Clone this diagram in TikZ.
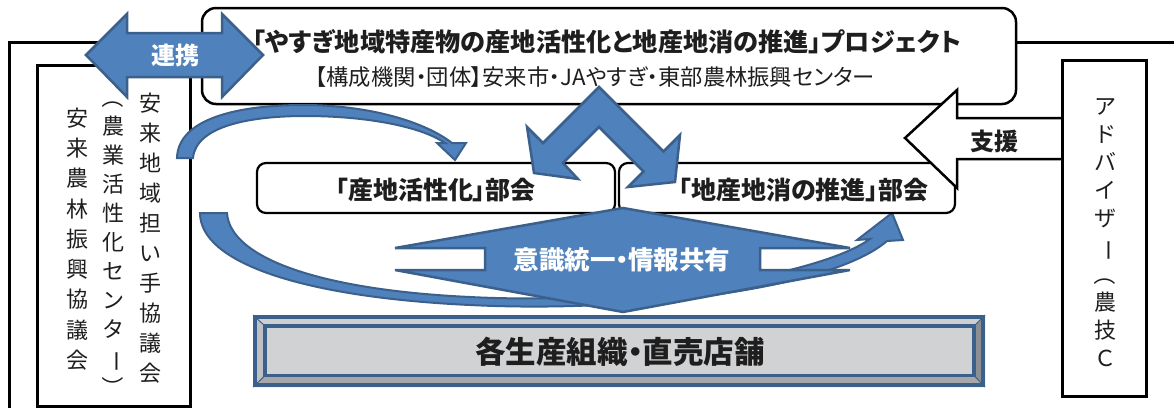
\documentclass[tikz,border=0pt]{standalone}
\usepackage{fontspec}
\usepackage{graphicx}
\newfontfamily\jp[RawFeature=+palt]{Noto Sans CJK JP}
\newfontfamily\jpv{Noto Sans CJK JP}
\definecolor{bfill}{RGB}{79,129,189}
\definecolor{bline}{RGB}{60,96,140}
\definecolor{txt}{RGB}{30,30,30}
\definecolor{face}{RGB}{209,210,212}
\definecolor{bevtop}{RGB}{205,207,210}
\definecolor{bevleft}{RGB}{190,192,196}
\definecolor{bevright}{RGB}{140,142,146}
\definecolor{bevbot}{RGB}{165,167,171}
\newcommand{\vpar}[1]{\rotatebox[origin=c]{-90}{#1}}
\begin{document}
\begin{tikzpicture}[x=1pt,y=-1pt,
  every node/.style={inner sep=0pt,outer sep=0pt,text=txt},
  frameline/.style={draw=black,line width=3pt},
  rbox/.style={draw=black,line width=2.2pt,fill=white,rounded corners=9pt},
  barrow/.style={fill=bfill,draw=bline,line width=2.5pt,line join=miter},
  wtext/.style={text=white,font=\jp\bfseries\fontsize{24}{26}\selectfont},
  btext/.style={font=\jp\bfseries\fontsize{25}{27}\selectfont},
  vcol/.style={align=center,font=\jpv\fontsize{22}{#1}\selectfont},
]
\useasboundingbox (0,0) rectangle (1174,408);
% outer frame
\draw[frameline] (9,408) -- (9,42.5) -- (1174,42.5);
% left inner box
\node[draw=black,line width=3pt,fill=white,minimum width=153pt,minimum height=341pt] (leftbox) at (113.5,235.5) {};
\node[vcol=30] (col1) at (150,238) {安\\来\\地\\域\\担\\い\\手\\協\\議\\会};
\node[vcol=29] (col2) at (113,242) {\vpar{（}\\農\\業\\活\\性\\化\\セ\\ン\\タ\\\vpar{ー}\\\vpar{）}};
\node[vcol=30.25] (col3) at (77,239) {安\\来\\農\\林\\振\\興\\協\\議\\会};
% top project box
\node[rbox,rounded corners=14pt,line width=2.5pt,minimum width=814pt,minimum height=96pt] (proj) at (609,56) {};
\node[font=\jp\bfseries\fontsize{25.2}{27}\selectfont] (title) at (607,42) {「やすぎ地域特産物の産地活性化と地産地消の推進」プロジェクト};
\node[font=\jp\fontsize{22.3}{24}\selectfont] (members) at (595,77) {【構成機関・団体】安来市・JAやすぎ・東部農林振興センター};
% renkei double arrow
\path[barrow] (86,55) -- (127,14) -- (127,33) -- (222,33) -- (222,14) -- (263,55) -- (222,97) -- (222,77) -- (127,77) -- (127,97) -- cycle;
\node[wtext] (renkei) at (175,55) {連携};
% upper curved arrow
\path[barrow,line width=2pt] (177,158) .. controls (178,118) and (240,105) .. (303,105) .. controls (370,105) and (425,122) .. (452,143) -- (466,143) -- (455,160) -- (437,143) -- (445,143) .. controls (420,126) and (365,116) .. (305,116) .. controls (250,116) and (196,126) .. (193,158) -- cycle;
% lower curved arrow
\path[barrow,line width=2pt] (200,213) .. controls (200,262) and (300,297) .. (470,305) .. controls (630,313) and (830,290) .. (887,241) -- (903,240) -- (892,213) -- (857,240) -- (870,239) .. controls (815,278) and (625,305) .. (470,297) .. controls (320,290) and (230,258) .. (227,213) -- cycle;
% bukai boxes
\node[rbox,minimum width=358pt,minimum height=50pt] (bukai1) at (436,188) {};
\node[rbox,minimum width=336pt,minimum height=50pt] (bukai2) at (787,188) {};
\node[btext] (bukai1t) at (435.5,190) {「産地活性化」部会};
\node[btext] (bukai2t) at (803.5,190) {「地産地消の推進」部会};
% inverted V arrow
\path[barrow] (599,87) -- (663.5,151.5) -- (680,135) -- (675,182) -- (628,187) -- (643.5,171.5) -- (599,127) -- (563,163) -- (578,179) -- (534,173) -- (527,127) -- (543,143) -- cycle;
% up-down arrow
\path[barrow] (623,208) -- (850,248) -- (760,248) -- (760,270) -- (850,270) -- (623,312) -- (395,270) -- (485,270) -- (485,248) -- (395,248) -- cycle;
\node[wtext,font=\jp\bfseries\fontsize{25.5}{27}\selectfont] (ishiki) at (622,260) {意識統一・情報共有};
% bottom bevel bar
\fill[bevtop] (253,315) -- (985,315) -- (974,326) -- (265,326) -- cycle;
\fill[bevleft] (253,315) -- (265,326) -- (265,375.5) -- (253,387) -- cycle;
\fill[bevright] (985,315) -- (985,387) -- (974,375.5) -- (974,326) -- cycle;
\fill[bevbot] (253,387) -- (985,387) -- (974,375.5) -- (265,375.5) -- cycle;
\draw[bline,line width=1pt] (253,315) -- (265,326) (985,315) -- (974,326) (985,387) -- (974,375.5) (253,387) -- (265,375.5);
\node[draw=bline,line width=3.5pt,fill=face,minimum width=709pt,minimum height=49.5pt] (face) at (619.5,350.75) {};
\node[draw=bline,line width=4pt,minimum width=728pt,minimum height=68pt] (bar) at (619,351) {};
\node[font=\jp\bfseries\fontsize{30.5}{32}\selectfont] (prod) at (620,352) {各生産組織・直売店舗};
% shien arrow
\path[draw=black,line width=2.5pt,fill=white,line join=miter] (905,138) -- (957,90) -- (957,118) -- (1063,118) -- (1063,159) -- (957,159) -- (957,188) -- cycle;
\node[btext,font=\jp\bfseries\fontsize{24}{26}\selectfont] (shien) at (994,141) {支援};
% advisor box
\node[draw=black,line width=3pt,fill=white,minimum width=84pt,minimum height=336pt] (adv) at (1104.5,228) {};
\node[vcol=28] (advt) at (1105,233) {ア\\ド\\バ\\イ\\ザ\\\vpar{ー}\\\vpar{（}\\農\\技\\Ｃ};
\end{tikzpicture}
\end{document}
